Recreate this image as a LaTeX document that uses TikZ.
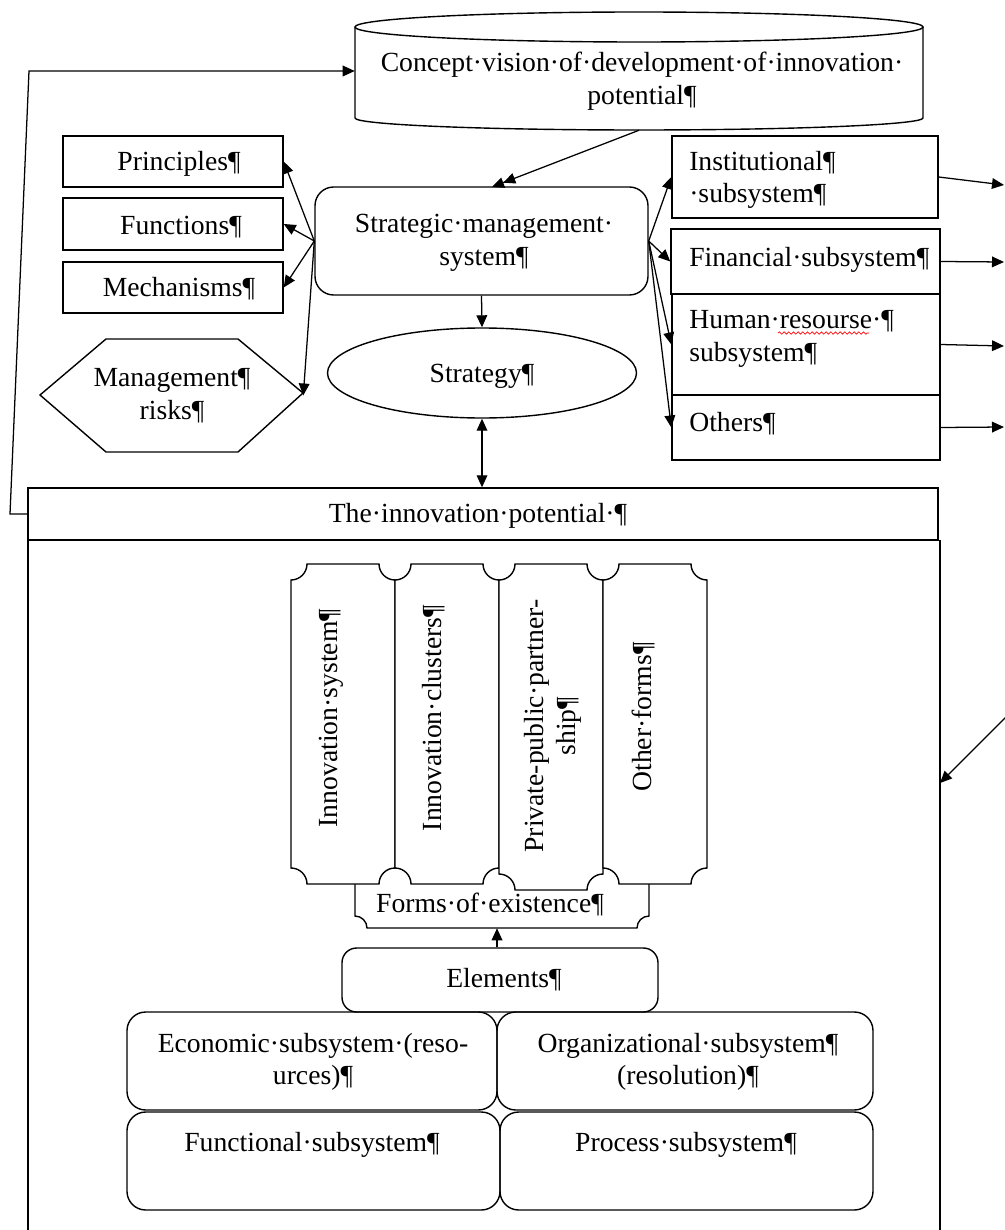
\documentclass[tikz,border=0pt]{standalone}
\usepackage{fontspec}
\setmainfont{Liberation Serif}
\usetikzlibrary{arrows.meta,fit,shapes.geometric,decorations.pathmorphing}

% ticket-like box with concave (inward) quarter-circle corners
% #1,#2 = top-left corner, #3,#4 = bottom-right corner, #5 = notch radius
\newcommand\plaquebox[5]{%
  \draw[boxline, fill=white]
    ({#1},{#2+#5}) .. controls ({#1+0.55*#5},{#2+#5}) and ({#1+#5},{#2+0.55*#5}) .. ({#1+#5},{#2})
    -- ({#3-#5},{#2}) .. controls ({#3-#5},{#2+0.55*#5}) and ({#3-0.55*#5},{#2+#5}) .. ({#3},{#2+#5})
    -- ({#3},{#4-#5}) .. controls ({#3-0.55*#5},{#4-#5}) and ({#3-#5},{#4-0.55*#5}) .. ({#3-#5},{#4})
    -- ({#1+#5},{#4}) .. controls ({#1+#5},{#4-0.55*#5}) and ({#1+0.55*#5},{#4-#5}) .. ({#1},{#4-#5})
    -- cycle;}

\begin{document}
\begin{tikzpicture}[x=0.75pt,y=-0.75pt,
  every node/.style={font=\fontsize{20.75}{24.5}\selectfont, inner sep=0pt},
  boxline/.style={draw, line width=1.05pt},
  box/.style={boxline, inner sep=0pt},
  rbox/.style={box, rounded corners=14pt},
  area/.style={inner sep=0pt},
  tip/.style={Triangle[length=9pt,width=8pt]},
  arr/.style={line width=0.95pt, -{Triangle[length=9pt,width=8pt]}},
  dblarr/.style={line width=0.95pt, {Triangle[length=9pt,width=8pt]}-{Triangle[length=9pt,width=8pt]}},
  twotip/.style={line width=0.95pt, -{Triangle[length=9pt,width=8pt]Triangle[length=9pt,width=8pt]}},
  vtext/.style={rotate=90, align=center}
]
\useasboundingbox[fill=white] (0,0) rectangle (1005,1230);

% ---------- concept (cylinder) ----------
\draw[boxline] (639,27) ellipse [x radius=284, y radius=15];
\draw[boxline] (355,27) -- (355,118)
  .. controls (355,124.6) and (482,130) .. (639,130)
  .. controls (796,130) and (923,124.6) .. (923,118) -- (923,27);
\node[area, fit={(355,12) (923,130)}] (concept) {};
\node[align=center] (concepttext) at (642,81)
  {Concept·vision·of·development·of·innovation·\\potential¶};

% ---------- left column ----------
\node[box, fit={(63,136) (283,187)}] (principles) {};
\node[box, fit={(63,198) (283,250)}] (functions) {};
\node[box, fit={(63,262) (283,313)}] (mechanisms) {};
\node (principlestext) at (179,164) {Principles¶};
\node (functionstext) at (181,227) {Functions¶};
\node (mechanismstext) at (179,289) {Mechanisms¶};
\draw[boxline] (40,395) -- (106,339) -- (238,339) -- (303,393) -- (238,452) -- (106,452) -- cycle;
\node[area, fit={(40,339) (303,452)}] (risks) {};
\node[align=center] (riskstext) at (172,396) {Management¶\\risks¶};

% ---------- centre column ----------
\node[rbox, fit={(315,187) (648,295)}] (sms) {};
\node[align=center] (smstext) at (484,243) {Strategic·management·\\system¶};
\node[boxline, ellipse, minimum width=231.75pt, minimum height=67.5pt] (strategy) at (482,373) {};
\node (strategytext) at (482,376) {Strategy¶};

% ---------- right column ----------
\node[box, fit={(672,136) (938,218)}] (institutional) {};
\node[box, fit={(671,229) (940,294)}] (financial) {};
\node[box, fit={(672,294) (940,395)}] (human) {};
\node[box, fit={(672,395) (940,460)}] (others) {};
\node[anchor=west, align=left] (institutionaltext) at (689,180) {Institutional¶\\·subsystem¶};
\node[anchor=west] (financialtext) at (689,260) {Financial·subsystem¶};
\node[anchor=west, align=left] (humantext) at (689,339) {Human·resourse·¶\\subsystem¶};
\node[anchor=west] (otherstext) at (689,424) {Others¶};
\draw[red, line width=0.5pt, decorate, decoration={snake, amplitude=0.9pt, segment length=3.5pt}]
  (778,333) -- (869,333);

% ---------- innovation potential ----------
\node[box, fit={(28,488) (938,540)}] (ip) {};
\node (iptext) at (478,516) {The·innovation·potential·¶};
\draw[boxline] (28,540) -- (28,1232);
\draw[boxline] (940,540) -- (940,1232);
\coordinate (bodyE) at (940,783);

% forms of existence and the four forms
\plaquebox{355}{860}{649}{928}{12}
\node[area, fit={(355,884) (649,928)}] (forms) {};
\node (formstext) at (490,904) {Forms·of·existence¶};
\plaquebox{291}{564}{395}{884}{16}
\plaquebox{395}{564}{499}{884}{16}
\plaquebox{499}{564}{603}{890}{16}
\plaquebox{603}{564}{707}{884}{16}
\node[vtext] (formA) at (331,718) {Innovation·system¶};
\node[vtext] (formB) at (434,718) {Innovation·clusters¶};
\node[vtext] (formC) at (553,726) {Private-public·partner-\\ship¶};
\node[vtext] (formD) at (643,717) {Other·forms¶};

% elements and subsystems
\node[rbox, rounded corners=11pt, fit={(342,948) (658,1012)}] (elements) {};
\node (elementstext) at (504,980) {Elements¶};
\node[rbox, fit={(127,1012) (497,1110)}] (economic) {};
\node[rbox, fit={(497,1012) (873,1110)}] (organizational) {};
\node[rbox, fit={(127,1112) (500,1210)}] (functional) {};
\node[rbox, fit={(500,1112) (873,1210)}] (process) {};
\node[align=center] (economictext) at (313,1062) {Economic·subsystem·(reso-\\urces)¶};
\node[align=center] (organizationaltext) at (688,1062) {Organizational·subsystem¶\\(resolution)¶};
\node (functionaltext) at (312,1145) {Functional·subsystem¶};
\node (processtext) at (686,1145) {Process·subsystem¶};

% ---------- connectors ----------
\coordinate (fbA) at (10,514);
\coordinate (fbB) at (29,71);
\draw[arr] (ip.west) -- (fbA) -- (fbB) -- (concept.west);

\coordinate (smsTop) at (492,187);
\draw[twotip] (concept.south) -- (smsTop);

\draw[arr] (sms.west) -- (principles.east);
\draw[arr] (sms.west) -- (functions.east);
\draw[arr] (sms.west) -- (mechanisms.east);
\draw[arr] (sms.west) -- (risks.east);

\draw[arr] (sms.south) -- (strategy.north);
\draw[dblarr] (strategy.south) -- (strategy.south |- ip.north);

\draw[arr] (sms.east) -- (institutional.west);
\draw[arr] (sms.east) -- (financial.west);
\draw[arr] (sms.east) -- (human.west);
\draw[arr] (sms.east) -- (others.west);

\coordinate (outA) at (1004,185);
\coordinate (outB) at (1004,262);
\coordinate (outC) at (1004,346);
\coordinate (outD) at (1004,427);
\draw[arr] (institutional.east) -- (outA);
\draw[arr] (financial.east) -- (outB);
\draw[arr] (human.east) -- (outC);
\draw[arr] (others.east) -- (outD);

\coordinate (inc) at (1006,717);
\draw[arr] (inc) -- (bodyE);

\coordinate (elemX) at (497,0);
\draw[arr] (elements.north -| elemX) -- (forms.south -| elemX);
\end{tikzpicture}
\end{document}
